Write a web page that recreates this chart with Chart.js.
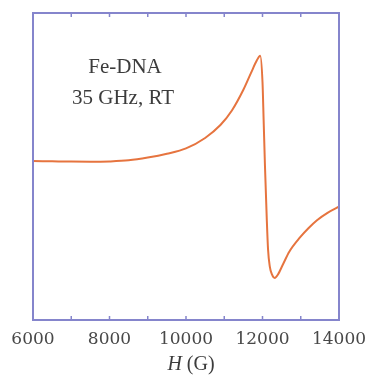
<!DOCTYPE html>
<html>
<head>
<meta charset="utf-8">
<script src="https://cdn.jsdelivr.net/npm/chart.js@4"></script>
<style>
  html, body { margin: 0; padding: 0; background: #fff; overflow: hidden; }
  #wrap { width: 365px; height: 381px; position: relative; }
</style>
</head>
<body>
<div id="wrap"><canvas id="chart"></canvas></div>
<script>
// field (G) and EPR signal (arb. units)
const fieldG = [6000, 6500, 7000, 7500, 8000, 8500, 9000, 9500, 10000, 10500, 10900, 11200, 11500,
  11700, 11850, 11940, 12000, 12030, 12065, 12110, 12145, 12190, 12250, 12320, 12400, 12540,
  12700, 12980, 13200, 13425, 13700, 14000];
const signal = [0.036, 0.034, 0.032, 0.031, 0.033, 0.040, 0.058, 0.083, 0.118, 0.186, 0.270, 0.365, 0.500,
  0.610, 0.690, 0.722, 0.550, 0.300, 0.000, -0.330, -0.540, -0.650, -0.705, -0.726, -0.705, -0.635,
  -0.555, -0.462, -0.402, -0.350, -0.302, -0.262];
const tickMarks = [6000, 7000, 8000, 9000, 10000, 11000, 12000, 13000, 14000];
const tickLabels = ['6000', '8000', '10000', '12000', '14000'];
const notes = ['Fe-DNA', '35 GHz, RT'];

const frameColor = '#8585cc';
const serif = "'Liberation Serif', 'DejaVu Serif', serif";

// frame, inward ticks, annotation and axis title
const decor = {
  id: 'decor',
  afterDatasetsDraw(chart) {
    const { ctx, chartArea: a, scales: { x } } = chart;
    ctx.save();
    ctx.strokeStyle = frameColor;
    ctx.lineWidth = 1.5;
    tickMarks.forEach(v => {
      const px = x.getPixelForValue(v);
      ctx.beginPath();
      ctx.moveTo(px, a.top); ctx.lineTo(px, a.top + 4);
      ctx.moveTo(px, a.bottom); ctx.lineTo(px, a.bottom - 4);
      ctx.stroke();
    });
    ctx.lineWidth = 2;
    ctx.strokeRect(a.left, a.top, a.right - a.left, a.bottom - a.top);

    ctx.fillStyle = '#3c3c3c';
    ctx.textAlign = 'center';
    ctx.textBaseline = 'middle';
    ctx.font = '21px ' + serif;
    ctx.fillText(notes[0], 125, 67);
    ctx.fillText(notes[1], 123, 98);

    // H (G) with italic H
    const y = 365;
    ctx.textAlign = 'left';
    ctx.font = 'italic 20px ' + serif;
    const wH = ctx.measureText('H').width;
    ctx.font = '20px ' + serif;
    const wG = ctx.measureText(' (G)').width;
    const x0 = (a.left + a.right) / 2 + 5 - (wH + wG) / 2;
    ctx.font = 'italic 20px ' + serif;
    ctx.fillText('H', x0, y);
    ctx.font = '20px ' + serif;
    ctx.fillText(' (G)', x0 + wH, y);
    ctx.restore();
  }
};

new Chart(document.getElementById('chart'), {
  type: 'line',
  data: {
    datasets: [{
      data: fieldG.map((g, i) => ({ x: g, y: signal[i] })),
      borderColor: '#e6743f',
      borderWidth: 2,
      pointRadius: 0,
      fill: false,
      cubicInterpolationMode: 'monotone'
    }]
  },
  options: {
    responsive: true,
    maintainAspectRatio: false,
    animation: false,
    layout: { padding: { left: 33, right: 26, top: 13, bottom: 0 } },
    plugins: { legend: { display: false }, tooltip: { enabled: false } },
    scales: {
      x: {
        type: 'linear',
        min: 6000,
        max: 14000,
        border: { display: false },
        grid: { display: false },
        afterBuildTicks: s => { s.ticks = tickLabels.map(t => ({ value: Number(t) })); },
        afterFit: s => { s.height = 61; s.paddingLeft = 0; s.paddingRight = 0; },
        ticks: {
          autoSkip: false,
          maxRotation: 0,
          padding: 1,
          color: '#484848',
          font: { family: "'DejaVu Serif', serif", size: 17 },
          callback: v => String(v)
        }
      },
      y: { display: false, min: -1, max: 1 }
    }
  },
  plugins: [decor]
});
</script>
</body>
</html>
